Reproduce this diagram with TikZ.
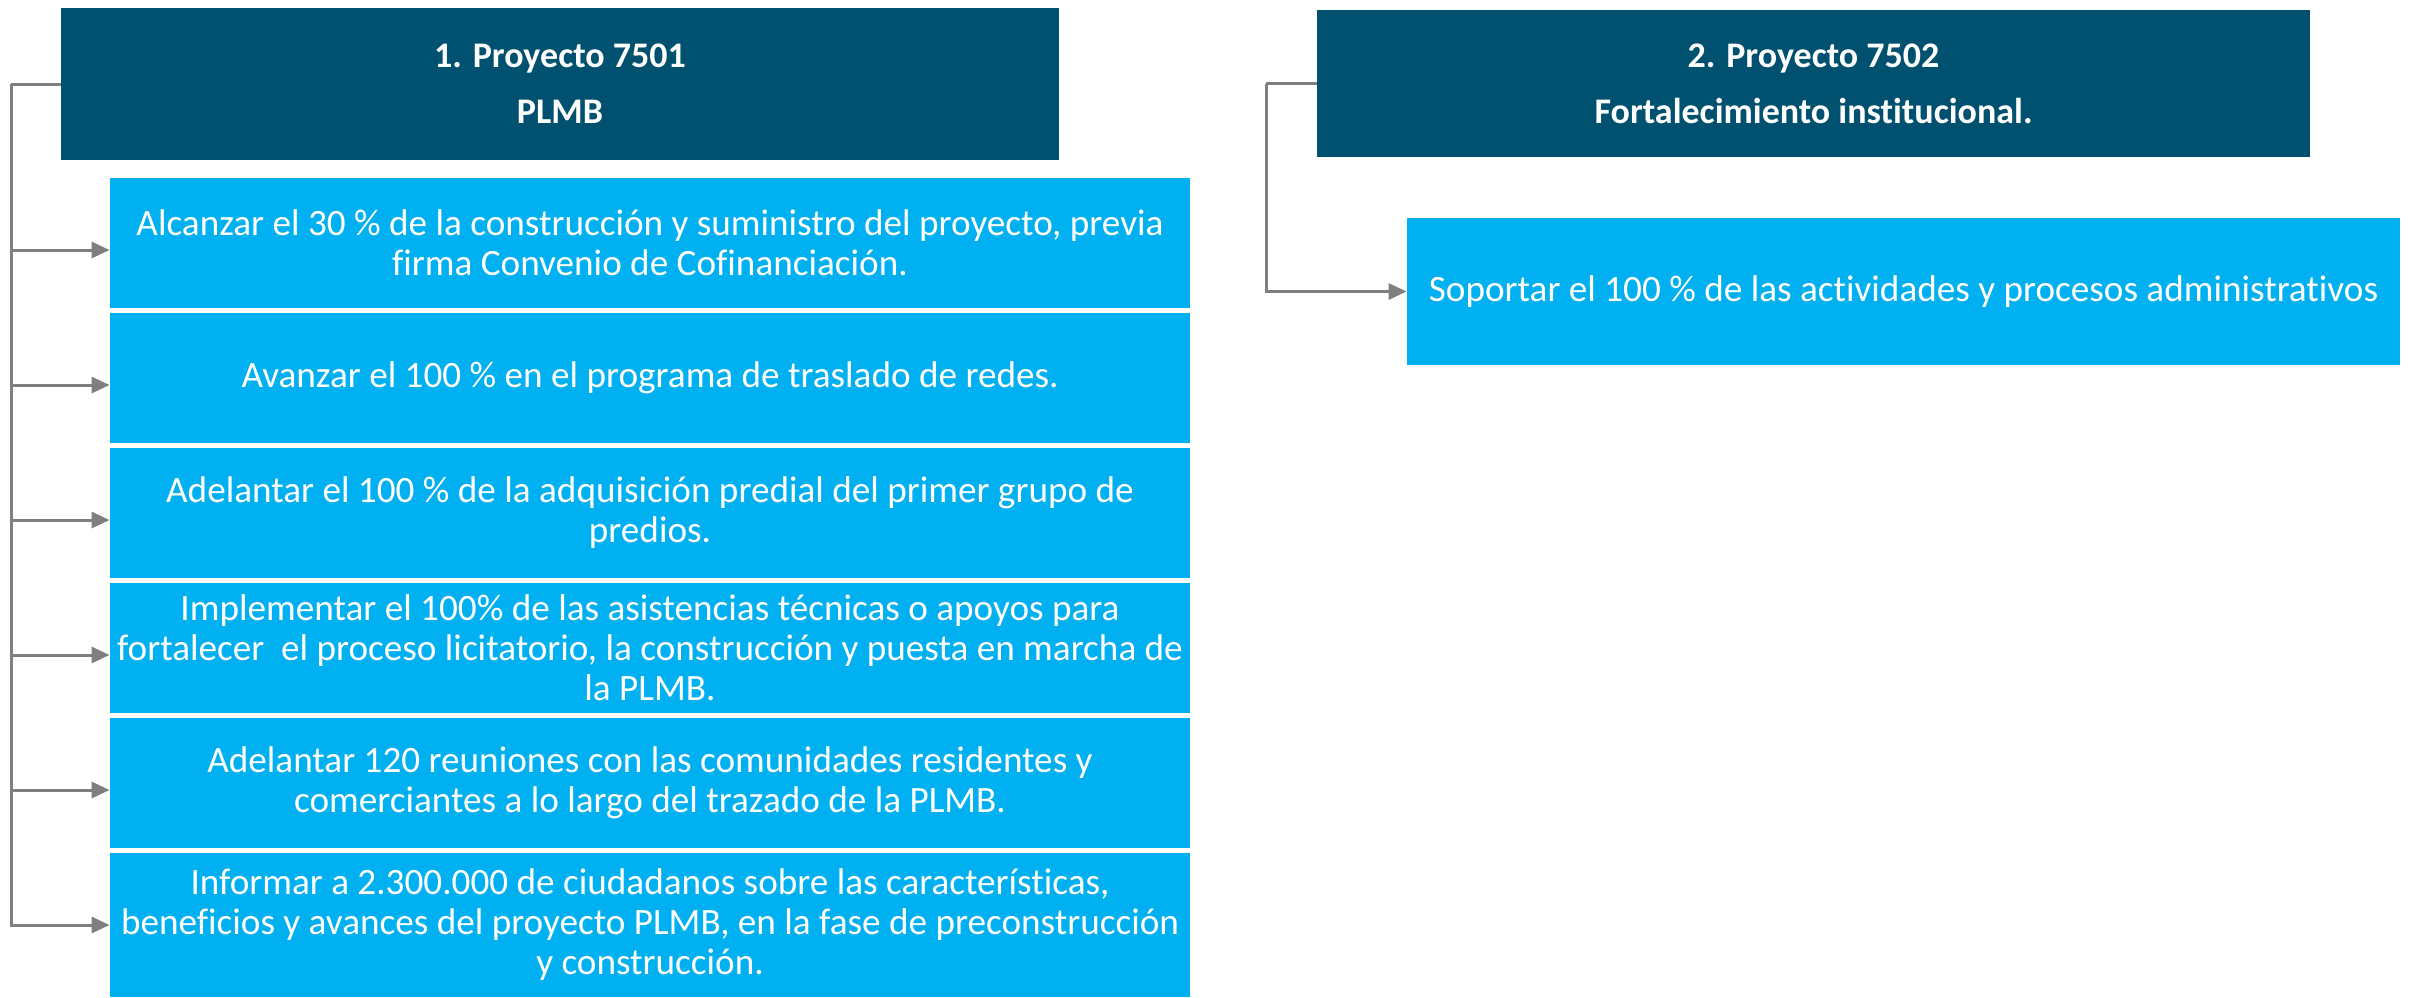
\documentclass[tikz,border=0pt]{standalone}
\usepackage{fontspec}
\setmainfont{Carlito}[Ligatures = NoCommon]
\usepackage{tikz}
\usetikzlibrary{arrows.meta}

\definecolor{azuloscuro}{HTML}{00506F}
\definecolor{azulclaro}{HTML}{00B0F0}
\definecolor{gris}{HTML}{7F7F7F}

\begin{document}
\begin{tikzpicture}[x = 0.5pt, y = -0.5pt,
  proyecto/.style = {fill = azuloscuro, text = white, align = center, inner sep = 0pt,
    font = \fontsize{18pt}{28pt}\selectfont\bfseries},
  meta/.style = {fill = azulclaro, text = white, align = center, inner sep = 0pt,
    font = \fontsize{18.6pt}{20pt}\selectfont},
  linea/.style = {draw = gris, line width = 1.5pt},
  flecha/.style = {linea, -{Triangle[length = 9pt, width = 8pt]}}]

\path[use as bounding box] (0, 0) rectangle (2412, 997);

\node[proyecto, minimum width = 499pt, minimum height = 76pt] (p7501) at (560, 84)
  {1. Proyecto 7501\\PLMB};
\node[proyecto, minimum width = 496.5pt, minimum height = 73.5pt] (p7502) at (1813.5, 83.5)
  {2. Proyecto 7502\\Fortalecimiento institucional.};

\node[meta, minimum width = 540pt, minimum height = 65pt] (m1) at (650, 243)
  {Alcanzar el 30 \% de la construcción y suministro del proyecto, previa\\firma Convenio de Cofinanciación.};
\node[meta, minimum width = 540pt, minimum height = 65pt] (m2) at (650, 378)
  {Avanzar el 100 \% en el programa de traslado de redes.};
\node[meta, minimum width = 540pt, minimum height = 65pt] (m3) at (650, 513)
  {Adelantar el 100 \% de la adquisición predial del primer grupo de\\predios.};
\node[meta, minimum width = 540pt, minimum height = 65pt] (m4) at (650, 648)
  {Implementar el 100\% de las asistencias técnicas o apoyos para\\fortalecer\ \ el proceso licitatorio, la construcción y puesta en marcha de\\la PLMB.};
\node[meta, minimum width = 540pt, minimum height = 65pt] (m5) at (650, 783)
  {Adelantar 120 reuniones con las comunidades residentes y\\comerciantes a lo largo del trazado de la PLMB.};
\node[meta, minimum width = 540pt, minimum height = 72pt] (m6) at (650, 925)
  {Informar a 2.300.000 de ciudadanos sobre las características,\\beneficios y avances del proyecto PLMB, en la fase de preconstrucción\\y construcción.};

\node[meta, minimum width = 496.5pt, minimum height = 73.5pt] (s1) at (1903.5, 291.5)
  {Soportar el 100 \% de las actividades y procesos administrativos};

\coordinate (troncoA) at (11, 84);
\coordinate (troncoB) at (1266, 83.5);

\draw[linea] (p7501.west) -- (troncoA);
\foreach \i in {1, ..., 5}
  \draw[flecha] (troncoA) |- ([yshift = -3.5pt]m\i.west);
\draw[flecha] (troncoA) |- (m6.west);

\draw[linea] (p7502.west) -- (troncoB);
\draw[flecha] (troncoB) |- (s1.west);

\end{tikzpicture}
\end{document}
